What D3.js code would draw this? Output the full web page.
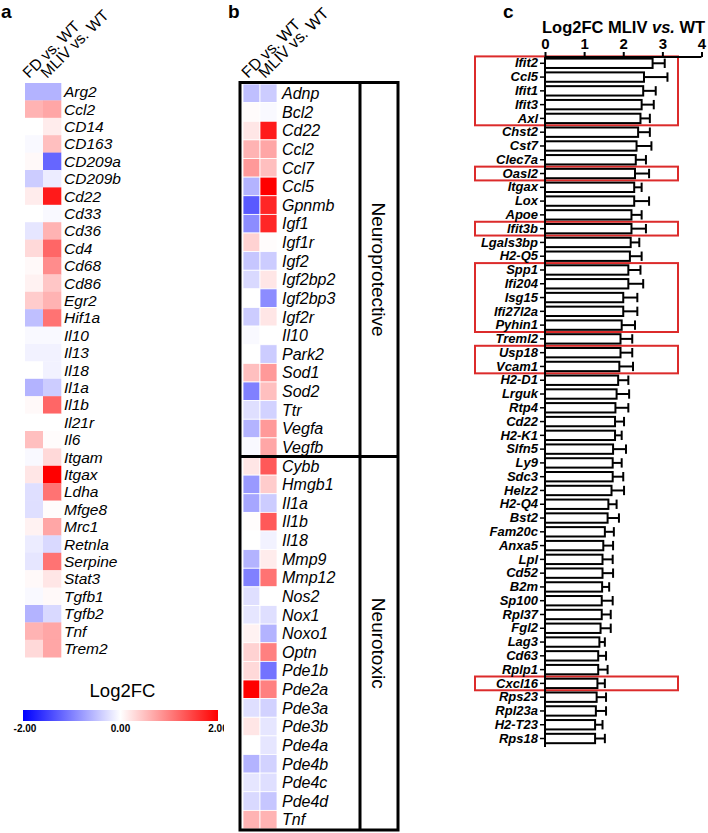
<!DOCTYPE html>
<html><head><meta charset="utf-8">
<script src="https://cdn.jsdelivr.net/npm/d3@7"></script>
<style>
html,body{margin:0;padding:0;background:#fff;}
svg{display:block;font-family:"Liberation Sans",Arial,Helvetica,sans-serif;}
</style></head>
<body>
<svg id="chart" width="708" height="833"></svg>
<script>
// ---------- DATA ----------
const heatColumns = ["FD vs. WT", "MLIV vs. WT"];

const genesA = ["Arg2","Ccl2","CD14","CD163","CD209a","CD209b","Cd22","Cd33","Cd36","Cd4","Cd68","Cd86","Egr2","Hif1a","Il10","Il13","Il18","Il1a","Il1b","Il21r","Il6","Itgam","Itgax","Ldha","Mfge8","Mrc1","Retnla","Serpine","Stat3","Tgfb1","Tgfb2","Tnf","Trem2"];
const fdA   = [-0.6,0.6,0.0,-0.05,0.05,-0.4,0.15,0.0,-0.2,0.3,0.05,0.1,0.4,-0.5,-0.05,-0.1,0.0,-0.6,0.05,0.0,0.5,-0.05,0.2,-0.25,-0.25,0.1,-0.15,-0.2,0.05,-0.05,-0.6,0.6,0.3];
const mlivA = [-0.6,0.7,0.15,0.5,-1.2,-0.15,1.8,-0.05,0.6,1.2,0.9,0.45,0.6,1.1,-0.05,-0.1,-0.1,-0.4,1.2,0.0,0.02,0.3,2.0,1.1,0.02,0.7,-0.3,1.1,0.2,0.05,-0.3,0.7,0.7];

const genesB = ["Adnp","Bcl2","Cd22","Ccl2","Ccl7","Ccl5","Gpnmb","Igf1","Igf1r","Igf2","Igf2bp2","Igf2bp3","Igf2r","Il10","Park2","Sod1","Sod2","Ttr","Vegfa","Vegfb","Cybb","Hmgb1","Il1a","Il1b","Il18","Mmp9","Mmp12","Nos2","Nox1","Noxo1","Optn","Pde1b","Pde2a","Pde3a","Pde3b","Pde4a","Pde4b","Pde4c","Pde4d","Tnf"];
const fdB   = [-0.5,0.03,0.2,0.6,0.8,-0.6,-1.3,-0.9,0.35,-0.45,-0.3,0.0,-0.4,-0.05,0.0,0.5,-1.0,-0.25,-0.6,-0.05,0.2,-0.8,-0.7,0.02,0.0,-0.6,-1.0,-0.25,-0.2,0.1,0.35,0.3,2.0,-0.25,0.2,0.0,-0.6,-0.2,-0.3,0.6];
const mlivB = [-0.4,-0.05,1.8,0.7,0.5,2.0,1.7,1.7,0.02,-0.4,0.2,-0.9,0.2,0.0,-0.4,0.8,0.5,-0.35,0.8,0.7,1.3,0.4,-0.4,1.3,-0.1,0.15,1.1,0.0,-0.25,-0.6,1.0,-1.1,1.0,-0.35,-0.2,-0.2,-0.35,-0.25,-0.45,0.6];
const groupsB = [
  {name:"Neuroprotective", first:"Adnp", last:"Vegfb"},
  {name:"Neurotoxic", first:"Cybb", last:"Tnf"}
];

const legendTicks = [-2, 0, 2];
const legendTickLabels = ["-2.00", "0.00", "2.00"];

const genesC = ["Ifit2","Ccl5","Ifit1","Ifit3","Axl","Chst2","Cst7","Clec7a","Oasl2","Itgax","Lox","Apoe","Ifit3b","Lgals3bp","H2-Q5","Spp1","Ifi204","Isg15","Ifi27l2a","Pyhin1","Treml2","Usp18","Vcam1","H2-D1","Lrguk","Rtp4","Cd22","H2-K1","Slfn5","Ly9","Sdc3","Helz2","H2-Q4","Bst2","Fam20c","Anxa5","Lpl","Cd52","B2m","Sp100","Rpl37","Fgl2","Lag3","Cd63","Rplp1","Cxcl16","Rps23","Rpl23a","H2-T23","Rps18"];
const meanC = [2.75,2.53,2.51,2.47,2.44,2.38,2.34,2.32,2.30,2.28,2.28,2.21,2.21,2.19,2.17,2.13,2.13,2.00,2.00,1.96,1.93,1.93,1.90,1.87,1.83,1.80,1.79,1.79,1.74,1.73,1.73,1.70,1.62,1.60,1.53,1.49,1.47,1.47,1.46,1.45,1.45,1.42,1.39,1.36,1.36,1.34,1.32,1.30,1.28,1.28];
const errC  = [0.31,0.60,0.32,0.31,0.24,0.30,0.38,0.26,0.36,0.19,0.38,0.26,0.37,0.22,0.30,0.31,0.38,0.36,0.36,0.34,0.30,0.30,0.35,0.26,0.32,0.33,0.23,0.17,0.33,0.23,0.27,0.32,0.21,0.29,0.23,0.25,0.26,0.27,0.18,0.28,0.23,0.26,0.14,0.20,0.24,0.19,0.24,0.26,0.19,0.25];
const xTicksC = [0,1,2,3,4];
const highlightGroupsC = [["Ifit2","Axl"],["Oasl2","Oasl2"],["Ifit3b","Ifit3b"],["Spp1","Pyhin1"],["Usp18","Vcam1"],["Cxcl16","Cxcl16"]];

// ---------- DRAW ----------
const svg = d3.select("#chart");
const color = d3.scaleLinear().domain([-2,0,2]).range(["#0000ff","#ffffff","#ff0000"]).clamp(true);

function panelLetter(x, y, t){
  svg.append("text").attr("x",x).attr("y",y).attr("font-size",19).attr("font-weight","bold").text(t);
}
panelLetter(1,18,"a"); panelLetter(228,18,"b"); panelLetter(503,18,"c");

// ----- Panel a -----
{
  const g = svg.append("g");
  const y = d3.scaleBand().domain(genesA).range([83, 83 + genesA.length*17.4]);
  const x = d3.scaleBand().domain(heatColumns).range([25, 61]);
  const vals = [fdA, mlivA];
  heatColumns.forEach((c,ci)=>{
    g.selectAll(null).data(genesA).enter().append("rect")
      .attr("x", x(c)).attr("y", d=>y(d)).attr("width", x.bandwidth()+0.3).attr("height", y.bandwidth()+0.3)
      .attr("fill", (d,i)=>color(vals[ci][i]));
  });
  g.selectAll(null).data(genesA).enter().append("text")
    .attr("x", 64).attr("y", d=>y(d)+y.bandwidth()/2).attr("dy","0.36em")
    .attr("font-size",15.5).attr("font-style","italic").text(d=>d);
  heatColumns.forEach((c,ci)=>{
    const cx = x(c) + 4, cy = 79 - ci*0;
    g.append("text").attr("transform",`translate(${cx},${cy}) rotate(-45)`)
      .attr("font-size",15.5).text(c);
  });
}

// ----- Legend -----
{
  const defs = svg.append("defs");
  const grad = defs.append("linearGradient").attr("id","lg").attr("x1","0%").attr("x2","100%");
  grad.append("stop").attr("offset","0%").attr("stop-color",color(-2));
  grad.append("stop").attr("offset","50%").attr("stop-color",color(0));
  grad.append("stop").attr("offset","100%").attr("stop-color",color(2));
  const lx = d3.scaleLinear().domain([-2,2]).range([23,218]);
  const clip = defs.append("clipPath").attr("id","legclip");
  clip.append("rect").attr("x",0).attr("y",600).attr("width",224).attr("height",200);
  const g = svg.append("g").attr("clip-path","url(#legclip)");
  g.append("text").attr("x",lx(0)+2).attr("y",697).attr("text-anchor","middle").attr("font-size",18.5).text("Log2FC");
  g.append("rect").attr("x",lx(-2)).attr("y",710).attr("width",lx(2)-lx(-2)).attr("height",11).attr("fill","url(#lg)");
  g.selectAll(null).data(legendTicks).enter().append("text")
    .attr("x", d=>lx(d)+ (d===-2?2:0)).attr("y",732).attr("text-anchor","middle")
    .attr("font-size",10).attr("font-weight","bold").text((d,i)=>legendTickLabels[i]);
}

// ----- Panel b -----
{
  const g = svg.append("g");
  const y = d3.scaleBand().domain(genesB).range([84, 829]);
  const x = d3.scaleBand().domain(heatColumns).range([243, 277]);
  const vals = [fdB, mlivB];
  heatColumns.forEach((c,ci)=>{
    g.selectAll(null).data(genesB).enter().append("rect")
      .attr("x", x(c)).attr("y", d=>y(d)).attr("width", x.bandwidth()).attr("height", y.bandwidth())
      .attr("fill", (d,i)=>color(vals[ci][i])).attr("stroke","#fff").attr("stroke-width",0.8);
  });
  g.selectAll(null).data(genesB).enter().append("text")
    .attr("x", 282).attr("y", d=>y(d)+y.bandwidth()/2).attr("dy","0.36em")
    .attr("font-size",16).attr("font-style","italic").text(d=>d);
  heatColumns.forEach((c,ci)=>{
    const cx = x(c) + 5, cy = 79;
    g.append("text").attr("transform",`translate(${cx},${cy}) rotate(-45)`)
      .attr("font-size",16).text(c);
  });
  // frame
  const top = 82.5, bottom = 830, left = 240, right = 398, inner = 360;
  g.append("rect").attr("x",left).attr("y",top).attr("width",right-left).attr("height",bottom-top)
    .attr("fill","none").attr("stroke","#000").attr("stroke-width",3);
  g.append("line").attr("x1",inner).attr("x2",inner).attr("y1",top).attr("y2",bottom).attr("stroke","#000").attr("stroke-width",3);
  groupsB.forEach((grp,gi)=>{
    const y0 = gi===0 ? top : y(grp.first);
    const y1 = gi===groupsB.length-1 ? bottom : y(grp.last)+y.bandwidth();
    if (gi>0) g.append("line").attr("x1",left).attr("x2",right).attr("y1",y0).attr("y2",y0).attr("stroke","#000").attr("stroke-width",3);
    const cx = (inner+right)/2, cy = (y0+y1)/2;
    g.append("text").attr("transform",`translate(${cx},${cy}) rotate(90)`)
      .attr("text-anchor","middle").attr("dy","0.35em").attr("font-size",19).text(grp.name);
  });
}

// ----- Panel c -----
{
  const g = svg.append("g");
  const x = d3.scaleLinear().domain([0,4]).range([545, 701.5]);
  const y = d3.scaleBand().domain(genesC).range([56.4, 56.4 + genesC.length*13.78]).paddingInner(0.32).paddingOuter(0.16);
  const axisTopY = 57;
  // title
  const t = g.append("text").attr("x",542).attr("y",33).attr("font-size",16.5).attr("font-weight","bold");
  t.append("tspan").text("Log2FC MLIV ");
  t.append("tspan").attr("font-style","italic").text("vs.");
  t.append("tspan").text(" WT");
  // highlight boxes
  const step = y.step();
  highlightGroupsC.forEach(([a,b])=>{
    const ya = y(a) - (step - y.bandwidth())/2;
    const yb = y(b) + y.bandwidth() + (step - y.bandwidth())/2;
    g.append("rect").attr("x",475).attr("y",ya).attr("width",203).attr("height",yb-ya)
      .attr("fill","none").attr("stroke","#dc2b2b").attr("stroke-width",2);
  });
  // bars
  g.selectAll(null).data(genesC).enter().append("line")
    .attr("x1",(d,i)=>x(meanC[i])).attr("x2",(d,i)=>x(meanC[i]+errC[i]))
    .attr("y1",d=>y(d)+y.bandwidth()/2).attr("y2",d=>y(d)+y.bandwidth()/2)
    .attr("stroke","#000").attr("stroke-width",2);
  g.selectAll(null).data(genesC).enter().append("line")
    .attr("x1",(d,i)=>x(meanC[i]+errC[i])).attr("x2",(d,i)=>x(meanC[i]+errC[i]))
    .attr("y1",d=>y(d)).attr("y2",d=>y(d)+y.bandwidth())
    .attr("stroke","#000").attr("stroke-width",2);
  g.selectAll(null).data(genesC).enter().append("rect")
    .attr("x",x(0)).attr("y",d=>y(d)).attr("width",(d,i)=>x(meanC[i])-x(0)).attr("height",y.bandwidth())
    .attr("fill","#fff").attr("stroke","#000").attr("stroke-width",2);
  // x axis (top)
  const xa = g.append("g").attr("transform",`translate(0,${axisTopY})`)
    .call(d3.axisTop(x).tickValues(xTicksC).tickFormat(d3.format("d")).tickSize(5).tickPadding(3));
  xa.select(".domain").attr("stroke-width",2).attr("d",`M${x(0)},0H${x(4)}`);
  xa.selectAll(".tick line").attr("stroke-width",2);
  xa.selectAll("text").attr("font-size",15).attr("font-weight","bold").attr("font-family","Liberation Sans, Arial, sans-serif").attr("fill","#000");
  // y axis
  const ya = g.append("g").attr("transform",`translate(${x(0)},0)`)
    .call(d3.axisLeft(y).tickSize(5).tickPadding(2));
  ya.select(".domain").attr("stroke-width",2).attr("d",`M0,${axisTopY}V747`);
  ya.selectAll(".tick line").attr("stroke-width",1.5);
  ya.selectAll("text").attr("font-size",13).attr("font-weight","bold").attr("font-style","italic")
    .attr("font-family","Liberation Sans, Arial, sans-serif").attr("fill","#000");
}
</script>
</body></html>
